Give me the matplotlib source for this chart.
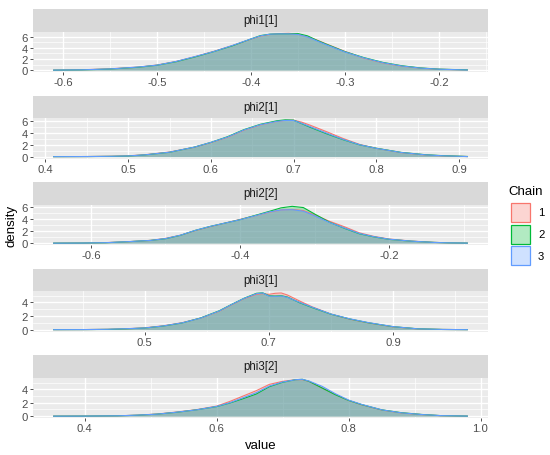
import numpy as np
import matplotlib.pyplot as plt
from matplotlib.patches import Rectangle
from matplotlib.ticker import FixedLocator

plt.rcParams['font.family'] = ['Liberation Sans', 'DejaVu Sans']
plt.rcParams['axes.unicode_minus'] = False

params = ["phi1[1]", "phi2[1]", "phi2[2]", "phi3[1]", "phi3[2]"]
chains = ["1", "2", "3"]
chain_colors = ["#F8766D", "#00BA38", "#619CFF"]

# phi1[1]
phi1_1_x = [-0.61, -0.58, -0.55, -0.52, -0.50, -0.48, -0.46, -0.44, -0.42, -0.40, -0.39, -0.38, -0.37,
            -0.36, -0.35, -0.34, -0.33, -0.32, -0.30, -0.28, -0.26, -0.24, -0.22, -0.20, -0.17]
phi1_1_c1 = [0.00, 0.07, 0.24, 0.55, 0.92, 1.55, 2.40, 3.35, 4.40, 5.55, 6.10, 6.40, 6.55,
             6.60, 6.45, 6.00, 5.40, 4.70, 3.35, 2.15, 1.30, 0.72, 0.36, 0.16, 0.03]
phi1_1_c2 = [0.00, 0.05, 0.20, 0.52, 0.88, 1.50, 2.35, 3.30, 4.35, 5.60, 6.20, 6.45, 6.50,
             6.50, 6.55, 6.15, 5.35, 4.65, 3.30, 2.25, 1.40, 0.80, 0.40, 0.18, 0.05]
phi1_1_c3 = [0.01, 0.06, 0.22, 0.56, 0.90, 1.55, 2.42, 3.32, 4.42, 5.60, 6.15, 6.45, 6.50,
             6.50, 6.40, 5.95, 5.25, 4.55, 3.25, 2.20, 1.35, 0.75, 0.37, 0.17, 0.03]
phi1_1_ticks = [-0.6, -0.5, -0.4, -0.3, -0.2]

# phi2[1]
phi2_1_x = [0.41, 0.45, 0.48, 0.50, 0.52, 0.55, 0.58, 0.60, 0.62, 0.64, 0.66, 0.68, 0.69, 0.70,
            0.71, 0.72, 0.74, 0.76, 0.78, 0.80, 0.83, 0.86, 0.88, 0.91]
phi2_1_c1 = [0.00, 0.02, 0.07, 0.14, 0.32, 0.78, 1.58, 2.35, 3.25, 4.45, 5.35, 5.95, 6.10, 6.15,
             5.80, 5.30, 4.20, 3.05, 2.05, 1.40, 0.68, 0.28, 0.14, 0.02]
phi2_1_c2 = [0.00, 0.02, 0.05, 0.11, 0.29, 0.73, 1.60, 2.40, 3.35, 4.55, 5.45, 6.05, 6.20, 6.15,
             5.55, 4.95, 3.85, 2.85, 1.98, 1.42, 0.72, 0.32, 0.17, 0.03]
phi2_1_c3 = [0.00, 0.02, 0.06, 0.12, 0.30, 0.75, 1.60, 2.40, 3.30, 4.50, 5.40, 5.95, 6.10, 6.10,
             5.60, 5.05, 3.95, 2.90, 2.00, 1.40, 0.70, 0.30, 0.15, 0.02]
phi2_1_ticks = [0.4, 0.5, 0.6, 0.7, 0.8, 0.9]

# phi2[2]
phi2_2_x = [-0.65, -0.61, -0.58, -0.55, -0.52, -0.50, -0.48, -0.46, -0.44, -0.42, -0.40, -0.38, -0.36,
            -0.345, -0.33, -0.315, -0.30, -0.28, -0.26, -0.24, -0.22, -0.20, -0.17, -0.14, -0.12, -0.095]
phi2_2_c1 = [0.00, 0.02, 0.09, 0.24, 0.46, 0.78, 1.30, 2.05, 2.70, 3.30, 3.90, 4.50, 5.10,
             5.45, 5.55, 5.35, 4.65, 3.60, 2.70, 1.70, 1.10, 0.68, 0.34, 0.13, 0.05, 0.01]
phi2_2_c2 = [0.00, 0.02, 0.07, 0.24, 0.45, 0.72, 1.28, 2.10, 2.75, 3.30, 3.85, 4.55, 5.25,
             5.80, 6.05, 5.85, 4.80, 3.45, 2.45, 1.55, 1.02, 0.63, 0.32, 0.13, 0.05, 0.01]
phi2_2_c3 = [0.00, 0.02, 0.08, 0.25, 0.45, 0.75, 1.30, 2.10, 2.75, 3.30, 3.85, 4.50, 5.15,
             5.45, 5.50, 5.25, 4.50, 3.40, 2.50, 1.60, 1.05, 0.65, 0.33, 0.12, 0.05, 0.01]
phi2_2_ticks = [-0.6, -0.4, -0.2]

# phi3[1]
phi3_1_x = [0.353, 0.40, 0.44, 0.47, 0.50, 0.53, 0.56, 0.59, 0.62, 0.64, 0.66, 0.68, 0.69, 0.70,
            0.71, 0.72, 0.73, 0.75, 0.77, 0.80, 0.83, 0.86, 0.90, 0.94, 0.98, 1.02]
phi3_1_c1 = [0.00, 0.01, 0.05, 0.13, 0.27, 0.57, 1.02, 1.70, 2.70, 3.65, 4.55, 5.20, 5.30, 5.20,
             5.35, 5.40, 5.10, 4.20, 3.35, 2.30, 1.55, 1.00, 0.42, 0.11, 0.03, 0.00]
phi3_1_c2 = [0.00, 0.01, 0.04, 0.12, 0.24, 0.53, 0.98, 1.72, 2.78, 3.72, 4.62, 5.35, 5.42, 5.00,
             4.95, 5.00, 4.80, 3.95, 3.25, 2.28, 1.58, 1.02, 0.44, 0.13, 0.03, 0.00]
phi3_1_c3 = [0.00, 0.01, 0.05, 0.14, 0.25, 0.55, 1.00, 1.70, 2.75, 3.70, 4.60, 5.30, 5.40, 4.95,
             4.90, 4.95, 4.75, 4.00, 3.30, 2.30, 1.60, 1.05, 0.45, 0.12, 0.03, 0.00]
phi3_1_ticks = [0.5, 0.7, 0.9]

# phi3[2]
phi3_2_x = [0.353, 0.40, 0.45, 0.48, 0.51, 0.54, 0.57, 0.60, 0.62, 0.64, 0.66, 0.68, 0.70, 0.72,
            0.73, 0.74, 0.76, 0.78, 0.80, 0.82, 0.85, 0.88, 0.91, 0.94, 0.98]
phi3_2_c1 = [0.00, 0.01, 0.05, 0.15, 0.32, 0.62, 0.98, 1.50, 2.20, 3.00, 3.80, 4.75, 5.20, 5.45,
             5.45, 5.20, 4.20, 3.25, 2.35, 1.70, 0.92, 0.48, 0.24, 0.07, 0.01]
phi3_2_c2 = [0.00, 0.01, 0.05, 0.14, 0.30, 0.58, 0.95, 1.42, 1.95, 2.60, 3.30, 4.40, 5.05, 5.45,
             5.50, 5.20, 4.20, 3.20, 2.35, 1.72, 0.95, 0.52, 0.26, 0.08, 0.01]
phi3_2_c3 = [0.00, 0.01, 0.05, 0.15, 0.30, 0.60, 0.95, 1.45, 2.00, 2.75, 3.50, 4.50, 5.10, 5.45,
             5.50, 5.25, 4.45, 3.35, 2.40, 1.75, 0.95, 0.50, 0.25, 0.08, 0.01]
phi3_2_ticks = [0.4, 0.6, 0.8, 1.0]

panels = [
    (phi1_1_x, [phi1_1_c1, phi1_1_c2, phi1_1_c3], phi1_1_ticks),
    (phi2_1_x, [phi2_1_c1, phi2_1_c2, phi2_1_c3], phi2_1_ticks),
    (phi2_2_x, [phi2_2_c1, phi2_2_c2, phi2_2_c3], phi2_2_ticks),
    (phi3_1_x, [phi3_1_c1, phi3_1_c2, phi3_1_c3], phi3_1_ticks),
    (phi3_2_x, [phi3_2_c1, phi3_2_c2, phi3_2_c3], phi3_2_ticks),
]

W, H = 550, 456
fig = plt.figure(figsize=(W / 100, H / 100), dpi=100)


def box(left, top, w, h):
    return [left / W, 1 - (top + h) / H, w / W, h / H]


left_px, width_px = 33, 455
strip_h, plot_h, step = 22.5, 40.5, 86.5

for i, (name, (x, ys, ticks)) in enumerate(zip(params, panels)):
    top = 10 + step * i
    # strip
    sax = fig.add_axes(box(left_px, top, width_px, strip_h))
    sax.set_facecolor("#D9D9D9")
    sax.set_xticks([])
    sax.set_yticks([])
    for s in sax.spines.values():
        s.set_visible(False)
    sax.text(0.5, 0.5, name, ha="center", va="center", fontsize=8.3, color="#1A1A1A",
             transform=sax.transAxes)

    ax = fig.add_axes(box(left_px, top + strip_h, width_px, plot_h))
    ax.set_facecolor("#EBEBEB")
    for s in ax.spines.values():
        s.set_visible(False)

    x = np.array(x)
    for y, col in zip(ys, chain_colors):
        ax.fill_between(x, 0, y, color=col, alpha=0.3, linewidth=0, zorder=2)
        ax.plot(x, y, color=col, linewidth=0.8, zorder=3)

    xr = x.max() - x.min()
    ax.set_xlim(x.min() - 0.05 * xr, x.max() + 0.05 * xr)
    ymax = max(max(y) for y in ys)
    ax.set_ylim(-0.05 * ymax, 1.05 * ymax)

    tstep = ticks[1] - ticks[0]
    ax.xaxis.set_major_locator(FixedLocator(ticks))
    ax.set_xticklabels([f"{t:.1f}" for t in ticks])
    minors = [ticks[0] - tstep / 2] + [t + tstep / 2 for t in ticks]
    ax.xaxis.set_minor_locator(FixedLocator(minors))
    ax.yaxis.set_major_locator(FixedLocator([0, 2, 4, 6]))
    ax.yaxis.set_minor_locator(FixedLocator([1, 3, 5, 7]))

    ax.grid(which="major", color="white", linewidth=1.0, zorder=0)
    ax.grid(which="minor", color="white", linewidth=0.5, zorder=0)
    ax.set_axisbelow(True)
    ax.tick_params(which="major", length=2.2, width=0.6, color="#333333",
                   labelsize=8.1, labelcolor="#4D4D4D", pad=1.5)
    ax.tick_params(which="minor", length=0)

fig.text(12 / W, 1 - 226 / H, "density", rotation=90, ha="center", va="center",
         fontsize=9.5, color="black")
fig.text(260.5 / W, 1 - 446 / H, "value", ha="center", va="center", fontsize=9.5, color="black")

# legend
fig.text(508 / W, 1 - 192 / H, "Chain", ha="left", va="center", fontsize=9.5, color="black")
for j, (lab, col) in enumerate(zip(chains, chain_colors)):
    cy = 213.5 + 21.7 * j
    fig.patches.append(Rectangle((510.5 / W, 1 - (cy + 9.5) / H), 19 / W, 19 / H,
                                 transform=fig.transFigure, facecolor=col, alpha=0.3,
                                 edgecolor="none"))
    fig.patches.append(Rectangle((510.5 / W, 1 - (cy + 9.5) / H), 19 / W, 19 / H,
                                 transform=fig.transFigure, facecolor="none",
                                 edgecolor=col, linewidth=0.9))
    fig.text(538 / W, 1 - cy / H, lab, ha="left", va="center", fontsize=8.1, color="black")

fig.savefig("out.png", dpi=100)
